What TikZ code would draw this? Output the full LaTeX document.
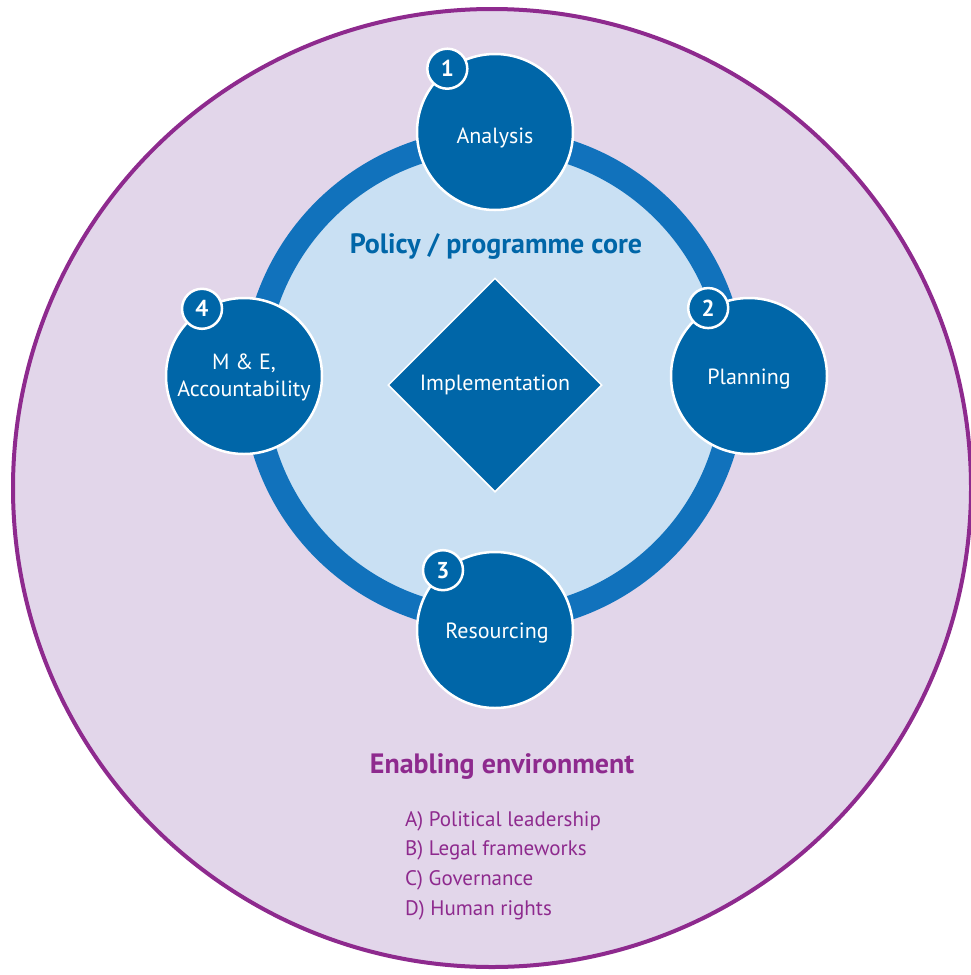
\documentclass[tikz,border=0pt]{standalone}
\usepackage{fontspec}
\setmainfont{PT Sans}
\usetikzlibrary{shapes.geometric}
\definecolor{envfill}{HTML}{E2D6EA}
\definecolor{envline}{HTML}{8E2A8E}
\definecolor{ringblue}{HTML}{1172BC}
\definecolor{corefill}{HTML}{C9E0F3}
\definecolor{stepblue}{HTML}{0066A8}
\begin{document}
\begin{tikzpicture}[x=1pt, y=-1pt,
  stage/.style={circle, fill=stepblue, draw=white, line width=2.5pt,
    minimum size=156pt, inner sep=0pt},
  stagetext/.style={text=white, align=center, inner sep=0pt,
    font=\fontsize{22}{27}\selectfont},
  badge/.style={circle, fill=stepblue, draw=white, line width=2.5pt,
    minimum size=40pt, inner sep=0pt, text=white,
    font=\fontsize{23}{23}\selectfont\bfseries},
  envitem/.style={anchor=base west, text=envline, inner sep=0pt,
    font=\fontsize{21}{24}\selectfont},
]
\useasboundingbox (0,0) rectangle (971,975);
\node (env) [circle, fill=envfill, draw=envline, line width=4pt,
  minimum size=958pt] at (492,488) {};
\node (core) [circle, fill=corefill, draw=ringblue, line width=24pt,
  minimum size=480pt] at (494,380) {};
\node (impl) [diamond, aspect=1, fill=stepblue, draw=white, line width=1.5pt,
  minimum width=214pt, minimum height=214pt, inner sep=0pt, text=white,
  font=\fontsize{22}{27}\selectfont] at (495,385) {Implementation};
\node (coretitle) [anchor=base, text=stepblue, inner sep=0pt,
  font=\fontsize{28}{30}\selectfont\bfseries] at (496,253) {Policy / programme core};

\node (analysis) [stage] at (495,132) {};
\node (planning) [stage] at (749,376) {};
\node (resourcing) [stage] at (495,630) {};
\node (monitoring) [stage] at (244,376) {};
\node (analysis-text) [stagetext, anchor=base] at (495,143) {Analysis};
\node (planning-text) [stagetext, anchor=base] at (749,384) {Planning};
\node (resourcing-text) [stagetext, anchor=base] at (497,638) {Resourcing};
\node (monitoring-text) [stagetext] at (244,377) {M \& E,\\Accountability};

\node (badge1) [badge] at (analysis.127) {1};
\node (badge2) [badge] at (planning.121) {2};
\node (badge3) [badge] at (resourcing.131) {3};
\node (badge4) [badge] at (monitoring.122) {4};

\node (envtitle) [anchor=base, text=envline, inner sep=0pt,
  font=\fontsize{28}{30}\selectfont\bfseries] at (502,773) {Enabling environment};
\node (itemA) [envitem] at (405,826) {A) Political leadership};
\node (itemB) [envitem] at (405,855) {B) Legal frameworks};
\node (itemC) [envitem] at (405,885) {C) Governance};
\node (itemD) [envitem] at (405,915) {D) Human rights};
\end{tikzpicture}
\end{document}
